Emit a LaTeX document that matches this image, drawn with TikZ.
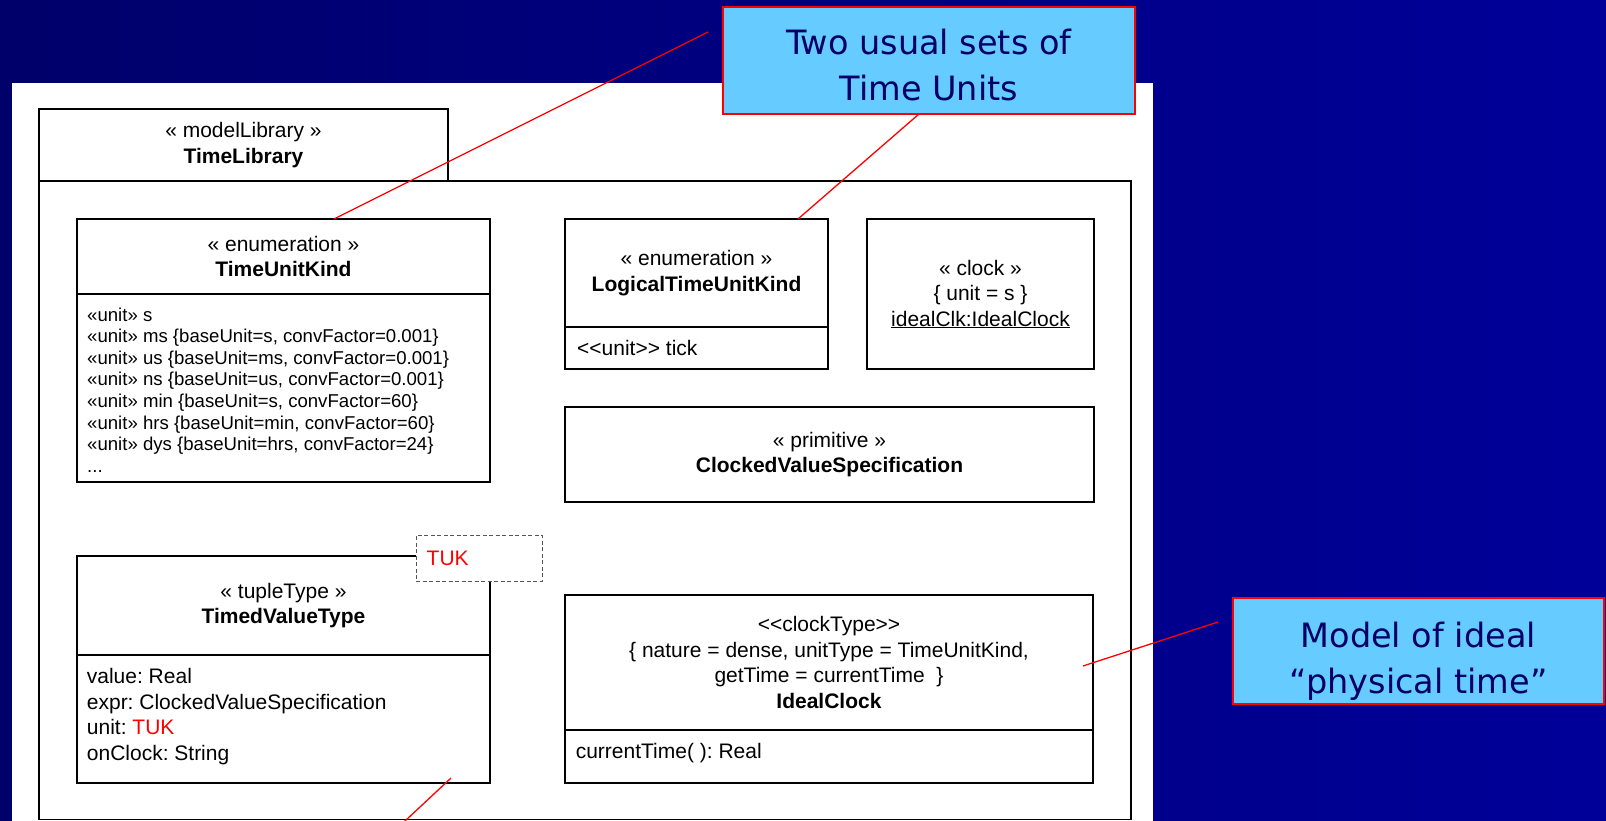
\documentclass[tikz,border=0pt]{standalone}
\usepackage{fontspec}
\setmainfont{Liberation Sans}
\newfontfamily\calloutfont{DejaVu Sans}
\usetikzlibrary{calc}
\frenchspacing

\definecolor{navyL}{HTML}{00006A}
\definecolor{navyR}{HTML}{000099}
\definecolor{calloutblue}{HTML}{66CCFF}
\definecolor{calloutink}{HTML}{000066}
\definecolor{leaderred}{HTML}{FF0000}
\definecolor{paramline}{HTML}{555555}

\newcommand{\umlfont}{\fontsize{21}{25.5}\selectfont}
\newcommand{\smallumlfont}{\fontsize{18.6}{21.6}\selectfont}

\begin{document}
\begin{tikzpicture}[x=1pt,y=-1pt,
  umlbox/.style={draw=black, line width=1.1pt, fill=white, inner sep=0pt, outer sep=0pt},
  hdr/.style={font=\umlfont, align=center},
  attr/.style={font=\umlfont, align=left, inner sep=0pt, anchor=north west},
  oneline/.style={font=\umlfont, inner sep=0pt, anchor=west},
  callout/.style={draw=leaderred, line width=2pt, fill=calloutblue, inner sep=0pt, outer sep=0pt},
  callouttext/.style={text=calloutink, inner sep=0pt, font=\calloutfont\fontsize{33.5}{45.5}\selectfont, align=center},
  leader/.style={draw=leaderred, line width=1.3pt}]

\useasboundingbox (0,0) rectangle (1606,821);

% slide background and white sheet
\shade[left color=navyL, right color=navyR] (0,0) rectangle (1606,821);
\fill[white] (12,83) rectangle (1153,821);

% package frame
\node[umlbox, hdr, minimum width=409pt, minimum height=72pt] (pkgtab) at (243.5,145)
  {« modelLibrary »\\\textbf{TimeLibrary}};
\node[umlbox, minimum width=1092pt, minimum height=638.5pt] (pkg) at (585,500.25) {};

% TimeUnitKind
\node[umlbox, hdr, minimum width=413pt, minimum height=75pt] (tukhead) at (283.5,256.5)
  {« enumeration »\\\textbf{TimeUnitKind}};
\node[umlbox, minimum width=413pt, minimum height=188pt, anchor=north] (tukbody) at (tukhead.south) {};
\node[attr, font=\smallumlfont] (tuklist) at ([xshift=10pt, yshift=-13.5pt]tukbody.north west)
  {«unit» s\\
   «unit» ms \{baseUnit=s, convFactor=0.001\}\\
   «unit» us \{baseUnit=ms, convFactor=0.001\}\\
   «unit» ns \{baseUnit=us, convFactor=0.001\}\\
   «unit» min \{baseUnit=s, convFactor=60\}\\
   «unit» hrs \{baseUnit=min, convFactor=60\}\\
   «unit» dys \{baseUnit=hrs, convFactor=24\}\\
   ...};

% LogicalTimeUnitKind
\node[umlbox, hdr, minimum width=263pt, minimum height=108pt] (ltukhead) at (696.5,273)
  {« enumeration »\\\textbf{LogicalTimeUnitKind}};
\node[umlbox, minimum width=263pt, minimum height=42pt, anchor=north] (ltukbody) at (ltukhead.south) {};
\node[oneline] (ltuklit) at ([xshift=12pt]ltukbody.west) {<\kern0pt<unit>\kern0pt> tick};

% clock instance
\node[umlbox, hdr, minimum width=227pt, minimum height=150pt] (clk) at (980.5,294)
  {« clock »\\\{ unit = s \}\\\underline{idealClk:IdealClock}};

% primitive type
\node[umlbox, hdr, minimum width=529pt, minimum height=95pt] (prim) at (829.5,454.5)
  {« primitive »\\\textbf{ClockedValueSpecification}};

% TimedValueType with its template parameter
\node[umlbox, hdr, minimum width=413pt, minimum height=99pt] (tvthead) at (283.5,605.5)
  {« tupleType »\\\textbf{TimedValueType}};
\node[umlbox, minimum width=413pt, minimum height=128pt, anchor=north] (tvtbody) at (tvthead.south) {};
\node[attr] (tvtlist) at ([xshift=9.7pt, yshift=-13.5pt]tvtbody.north west)
  {value: Real\\expr: ClockedValueSpecification\\unit: \textcolor{leaderred}{TUK}\\onClock: String};
\node[draw=paramline, dash pattern=on 4pt off 2.5pt, line width=1pt, fill=white,
      minimum width=126pt, minimum height=46pt, inner sep=0pt] (tukparam) at (479,558) {};
\node[oneline, text=leaderred] (tuklabel) at ([xshift=11pt]tukparam.west) {TUK};

% IdealClock
\node[umlbox, hdr, minimum width=528pt, minimum height=135pt] (icHead) at (829,662.5)
  {<\kern0pt<clockType>\kern0pt>\\\{ nature = dense, unitType = TimeUnitKind,\\getTime = currentTime~ \}\\\textbf{IdealClock}};
\node[umlbox, minimum width=528pt, minimum height=53pt, anchor=north] (icBody) at (icHead.south) {};
\node[oneline] (icOp) at ([xshift=10.6pt, yshift=3.5pt]icBody.west) {currentTime( ): Real};

% callouts
\node[callout, minimum width=411.5pt, minimum height=106.5pt] (noteUnits) at (928.75,60.75) {};
\node[callouttext] (noteUnitsText) at (928.75,65.25) {Two usual sets of\\Time Units};
\node[callout, minimum width=370.5pt, minimum height=106pt] (noteIdeal) at (1418.25,651) {};
\node[callouttext] (noteIdealText) at (1418.25,661.5) {Model of ideal\\“physical time”};

% leader lines
\coordinate (unitsTail) at (708,32);
\coordinate (idealTail) at (1218,622);
\coordinate (tvtTailA) at (451,778);
\coordinate (tvtTailB) at (397.5,828);
\draw[leader] (unitsTail) -- ([xshift=50.5pt]tukhead.north);
\draw[leader] ([xshift=-9.75pt]noteUnits.south) -- ([xshift=101.5pt]ltukhead.north);
\draw[leader] (idealTail) -- ([xshift=-10pt, yshift=-3.5pt]icHead.east);
\draw[leader] (tvtTailA) -- (tvtTailB);
\end{tikzpicture}
\end{document}
